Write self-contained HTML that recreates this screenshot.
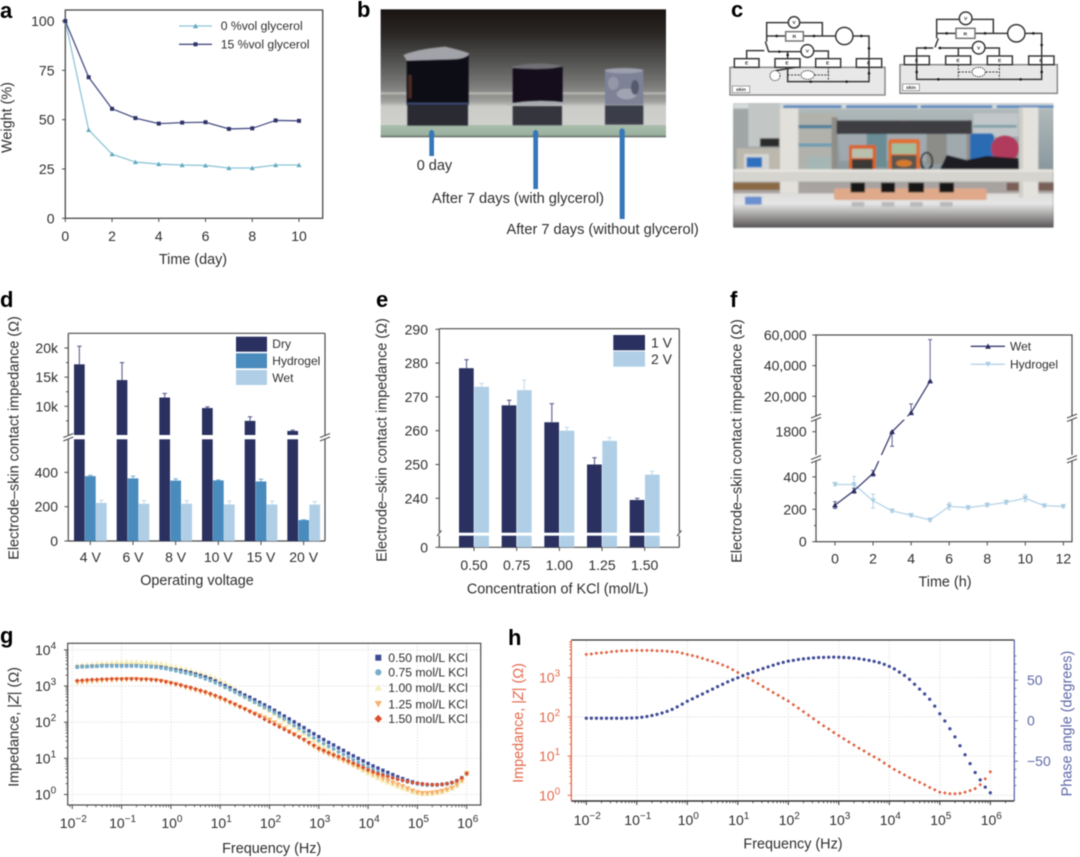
<!DOCTYPE html>
<html lang="en">
<head>
<meta charset="utf-8">
<title>Electrode-skin impedance figure</title>
<style>
html,body{margin:0;padding:0;background:#fff;width:1080px;height:857px;overflow:hidden}
svg{display:block;filter:blur(0.5px);font-family:"Liberation Sans",Arial,sans-serif}
text{fill:#2e2e2e}
</style>
</head>
<body>
<svg id="fig" xmlns="http://www.w3.org/2000/svg" width="1080" height="857" viewBox="0 0 1080 857">
<defs>
<linearGradient id="bBg" x1="0" y1="0" x2="0" y2="1">
<stop offset="0" stop-color="#191412"/><stop offset=".19" stop-color="#2b2725"/><stop offset=".42" stop-color="#555553"/><stop offset=".6" stop-color="#7c7c7a"/><stop offset=".64" stop-color="#8a8a88"/><stop offset=".655" stop-color="#b8b8b2"/><stop offset=".675" stop-color="#8f8f8c"/><stop offset=".72" stop-color="#a0a09e"/><stop offset=".76" stop-color="#cbcbc7"/><stop offset=".9" stop-color="#d0d0cc"/><stop offset=".91" stop-color="#a8bcab"/><stop offset=".98" stop-color="#9ab09f"/><stop offset="1" stop-color="#5b5f5b"/>
</linearGradient>
<linearGradient id="cFloor" x1="0" y1="0" x2="0" y2="1">
<stop offset="0" stop-color="#dcdcda"/><stop offset=".3" stop-color="#e6e6e6"/><stop offset=".55" stop-color="#b5b4b3"/><stop offset="1" stop-color="#5a5656"/>
</linearGradient>
<linearGradient id="cBack" x1="0" y1="0" x2="0" y2="1">
<stop offset="0" stop-color="#b4bcbc"/><stop offset=".5" stop-color="#8c9aa0"/><stop offset="1" stop-color="#5e6a6e"/>
</linearGradient>
<filter id="soft" x="-2%" y="-2%" width="104%" height="104%"><feGaussianBlur stdDeviation="2.6"/></filter>
<filter id="softer" x="-2%" y="-2%" width="104%" height="104%"><feGaussianBlur stdDeviation="1.4"/></filter>
</defs>

<g font-weight="700" font-size="22">
<text x="0" y="18" style="fill:#000">a</text>
<text x="357" y="17" style="fill:#000">b</text>
<text x="731" y="17" style="fill:#000">c</text>
<text x="0" y="307" style="fill:#000">d</text>
<text x="376" y="307" style="fill:#000">e</text>
<text x="730" y="307" style="fill:#000">f</text>
<text x="0" y="643" style="fill:#000">g</text>
<text x="508" y="645" style="fill:#000">h</text>
</g>

<g id="panel-b">
<g transform="translate(350,0) scale(0.33333)">
<rect x="92" y="28" width="856" height="384" fill="url(#bBg)"/>
<g filter="url(#softer)">
<g>
<rect x="172" y="315" width="182" height="62" fill="#2a2a30"/>
<rect x="170" y="165" width="186" height="150" fill="#100e16"/>
<rect x="175" y="225" width="10" height="70" fill="#4b2a24"/>
<path d="M160 165 Q200 148 285 140 Q330 150 358 160 Q350 178 300 178 L170 182 Z" fill="#a2a3a8"/>
<rect x="172" y="308" width="182" height="6" fill="#3c4a72"/>
</g>
<g>
<rect x="488" y="318" width="148" height="58" fill="#34343c"/>
<rect x="488" y="200" width="150" height="110" fill="#12111a"/>
<path d="M486 200 Q560 182 638 198 Q600 212 486 204 Z" fill="#6f7076"/>
<path d="M472 312 Q560 296 650 308 Q600 322 472 314 Z" fill="#a8acb0"/>
</g>
<g>
<rect x="765" y="316" width="115" height="58" fill="#3a3c48"/>
<rect x="765" y="208" width="115" height="106" fill="#7d8296"/>
<ellipse cx="822" cy="212" rx="57" ry="8" fill="#9da1ae"/>
<ellipse cx="830" cy="282" rx="30" ry="16" fill="#a0a4b2"/>
<ellipse cx="790" cy="250" rx="16" ry="20" fill="#9397a8"/>
<ellipse cx="855" cy="262" rx="12" ry="22" fill="#555a6c"/>
</g>
</g>
<rect x="238" y="392" width="14" height="76" fill="#3577b8"/>
<path d="M245 388 L255 405 L235 405 Z" fill="#3577b8"/>
<rect x="550" y="392" width="14" height="175" fill="#3577b8"/>
<path d="M557 388 L567 405 L547 405 Z" fill="#3577b8"/>
<rect x="809" y="388" width="15" height="269" fill="#3577b8"/>
<path d="M816 382 L826 400 L806 400 Z" fill="#3577b8"/>
</g>
<text x="416.7" y="170" font-size="14.5">0 day</text>
<text x="432" y="203" font-size="14.6">After 7 days (with glycerol)</text>
<text x="506.5" y="234" font-size="14.6">After 7 days (without glycerol)</text>
</g>

<g id="panel-c">
<g transform="translate(720,0) scale(0.33333)" fill="none" stroke="#3a3a3a" stroke-width="4.5" font-size="15" font-weight="700">
<g>
<rect x="30" y="202" width="465" height="83" fill="#e8e8e8" stroke="#8a8a8a"/>
<rect x="43" y="176" width="74" height="26" fill="#fff"/><rect x="165" y="176" width="75" height="26" fill="#fff"/><rect x="287" y="176" width="75" height="26" fill="#fff"/><rect x="409" y="176" width="76" height="26" fill="#fff"/>
<path d="M205 68 L140 68 L140 125 M140 108 L197 108 M250 108 L348 108 M240 68 L307 68 L307 108 M400 108 L447 108 L447 245 L203 245 L203 205 M136 125 L146 155 L245 155 M281 153 L325 153 L325 176 M80 176 L80 152 L133 152 M203 155 L203 176 M168 212 L225 202"/>
<path d="M203 225 L243 225 M283 225 L325 225 L325 205 L325 242" stroke-dasharray="6 4" stroke-width="3"/>
<circle cx="222" cy="67" r="17" fill="#fff"/><circle cx="262" cy="153" r="19" fill="#fff"/><circle cx="373" cy="108" r="26" fill="#fff"/><rect x="197" y="95" width="53" height="28" fill="#fff" stroke="#777"/>
<ellipse cx="165" cy="227" rx="15" ry="15" fill="#fff" stroke-dasharray="4 3" stroke-width="3"/><ellipse cx="263" cy="225" rx="20" ry="13" fill="#fff" stroke-dasharray="4 3" stroke-width="3"/>
<rect x="37" y="258" width="52" height="20" fill="#fff" stroke="#777" stroke-width="2"/>
<g stroke="none" fill="#222"><circle cx="170" cy="108" r="4"/><circle cx="282" cy="108" r="4"/><circle cx="424" cy="108" r="4"/><circle cx="447" cy="145" r="4"/><circle cx="178" cy="155" r="4"/><circle cx="203" cy="165" r="4"/><circle cx="447" cy="220" r="4"/><circle cx="380" cy="245" r="4"/><circle cx="272" cy="245" r="4"/></g>
<g stroke="none"><text x="222" y="72" text-anchor="middle" style="fill:#333">V</text><text x="262" y="158" text-anchor="middle" style="fill:#333">V</text><text x="223" y="114" text-anchor="middle" style="fill:#333">R</text><text x="80" y="194" text-anchor="middle" style="fill:#333">E</text><text x="201" y="194" text-anchor="middle" style="fill:#333">E</text><text x="323" y="194" text-anchor="middle" style="fill:#333">E</text><text x="446" y="194" text-anchor="middle" style="fill:#333">E</text><text x="63" y="273" text-anchor="middle" style="fill:#333">skin</text></g>
</g>
<g>
<rect x="540" y="194" width="472" height="86" fill="#e8e8e8" stroke="#8a8a8a"/>
<rect x="553" y="168" width="75" height="26" fill="#fff"/><rect x="677" y="168" width="75" height="26" fill="#fff"/><rect x="802" y="168" width="75" height="26" fill="#fff"/><rect x="926" y="168" width="76" height="26" fill="#fff"/>
<path d="M717 58 L650 58 L650 115 M650 100 L708 100 M765 100 L862 100 M757 58 L820 58 L820 100 M916 100 L965 100 L965 238 L590 238 L590 168 L590 144 L640 144 M645 142 L655 115 M655 144 L757 144 M794 144 L838 144 L838 168 M715 144 L715 168"/>
<path d="M715 194 L715 236 M715 216 L757 216 M797 216 L838 216 M838 194 L838 236" stroke-dasharray="6 4" stroke-width="3"/>
<circle cx="737" cy="55" r="19" fill="#fff"/><circle cx="776" cy="143" r="19" fill="#fff"/><circle cx="889" cy="100" r="26" fill="#fff"/><rect x="708" y="85" width="57" height="30" fill="#fff" stroke="#777"/>
<ellipse cx="776" cy="216" rx="20" ry="14" fill="#fff" stroke-dasharray="4 3" stroke-width="3"/>
<rect x="548" y="252" width="50" height="20" fill="#fff" stroke="#777" stroke-width="2"/>
<g stroke="none" fill="#222"><circle cx="680" cy="100" r="4"/><circle cx="795" cy="100" r="4"/><circle cx="940" cy="100" r="4"/><circle cx="965" cy="135" r="4"/><circle cx="616" cy="144" r="4"/><circle cx="660" cy="144" r="4"/><circle cx="655" cy="238" r="4"/><circle cx="902" cy="238" r="4"/><circle cx="590" cy="216" r="4"/><circle cx="965" cy="216" r="4"/></g>
<g stroke="none"><text x="737" y="60" text-anchor="middle" style="fill:#333">V</text><text x="776" y="148" text-anchor="middle" style="fill:#333">V</text><text x="736" y="106" text-anchor="middle" style="fill:#333">R</text><text x="590" y="186" text-anchor="middle" style="fill:#333">E</text><text x="714" y="186" text-anchor="middle" style="fill:#333">E</text><text x="839" y="186" text-anchor="middle" style="fill:#333">E</text><text x="963" y="186" text-anchor="middle" style="fill:#333">E</text><text x="573" y="267" text-anchor="middle" style="fill:#333">skin</text></g>
</g>
</g>
<g transform="translate(720,0) scale(0.33333)">
<rect x="40" y="310" width="960" height="372" fill="url(#cBack)"/>
<g filter="url(#soft)">
<rect x="40" y="310" width="960" height="16" fill="#d5dadc"/>
<rect x="190" y="316" width="175" height="8" fill="#4c82bd"/><rect x="378" y="316" width="215" height="8" fill="#4c82bd"/><rect x="602" y="316" width="215" height="8" fill="#4c82bd"/><rect x="830" y="316" width="170" height="8" fill="#4c82bd"/>
<rect x="40" y="326" width="140" height="190" fill="#a0a5a5"/><rect x="85" y="310" width="95" height="130" fill="#c2c6c4"/><rect x="120" y="415" width="58" height="25" fill="#2a2a2a"/>
<rect x="235" y="340" width="110" height="170" fill="#b2b2ac"/><rect x="235" y="375" width="100" height="10" fill="#4f7f9a"/><rect x="235" y="430" width="100" height="10" fill="#6f9cb3"/>
<rect x="760" y="340" width="135" height="70" fill="#c1c7c9"/><rect x="760" y="375" width="130" height="8" fill="#7d9fa5"/>
<rect x="335" y="352" width="18" height="160" fill="#8e8d88"/><rect x="540" y="360" width="20" height="150" fill="#a4a29c"/><rect x="740" y="360" width="16" height="120" fill="#8f8d88"/>
<rect x="350" y="362" width="405" height="40" fill="#3c3c42"/>
<rect x="360" y="402" width="380" height="80" fill="#9fa9ae"/><rect x="440" y="402" width="60" height="100" fill="#6a8d95"/><rect x="620" y="402" width="60" height="90" fill="#8c8d88"/>
<rect x="50" y="445" width="130" height="65" fill="#bcb8ae"/><rect x="72" y="462" width="75" height="45" fill="#d4d6d4"/><rect x="80" y="472" width="46" height="30" fill="#2d6fc0"/>
<rect x="260" y="470" width="70" height="38" fill="#a4b7b4"/>
<rect x="387" y="435" width="81" height="75" rx="6" fill="#d8642a"/><rect x="396" y="446" width="62" height="28" fill="#b9c0ae"/><rect x="396" y="478" width="62" height="32" fill="#3a3836"/>
<rect x="505" y="417" width="95" height="93" rx="8" fill="#e06f30"/><rect x="515" y="430" width="74" height="32" fill="#a6bd9c"/><rect x="515" y="466" width="74" height="44" fill="#58544e"/><ellipse cx="552" cy="490" rx="24" ry="11" fill="#d4792f"/>
<ellipse cx="620" cy="484" rx="17" ry="26" fill="none" stroke="#1e1e1e" stroke-width="5"/>
<rect x="750" y="400" width="72" height="105" rx="10" fill="#2c6cb3"/>
<ellipse cx="855" cy="446" rx="42" ry="40" fill="#b13a5c"/>
<path d="M660 510 L680 465 L740 480 L800 468 L895 475 L900 510 Z" fill="#1d1d20"/>
<rect x="40" y="545" width="960" height="40" fill="#a8a3a0"/>
<rect x="40" y="548" width="140" height="22" fill="#8a6a44"/><rect x="860" y="548" width="140" height="24" fill="#7a5e58"/>
<rect x="40" y="580" width="960" height="102" fill="url(#cFloor)"/>
<rect x="75" y="590" width="50" height="24" fill="#6b90cf"/>
<rect x="180" y="325" width="55" height="255" fill="#e2e0da"/><rect x="897" y="322" width="58" height="270" fill="#e4e2dc"/><rect x="897" y="322" width="12" height="270" fill="#cfcdc8"/>
<rect x="40" y="508" width="960" height="37" fill="#d6d4ce"/><rect x="40" y="508" width="960" height="8" fill="#e6e4de"/>
<rect x="342" y="565" width="458" height="35" rx="6" fill="#dfa98a"/>
<rect x="392" y="548" width="43" height="29" fill="#151515"/><rect x="483" y="548" width="42" height="29" fill="#151515"/><rect x="565" y="548" width="47" height="29" fill="#151515"/><rect x="658" y="548" width="44" height="29" fill="#151515"/>
<rect x="395" y="606" width="38" height="14" fill="#b9b9b9"/><rect x="485" y="606" width="38" height="14" fill="#b9b9b9"/><rect x="570" y="606" width="38" height="14" fill="#b9b9b9"/><rect x="660" y="606" width="38" height="14" fill="#b9b9b9"/>
</g>
</g>
</g>

<g id="charts"></g>

<script>
// ---------- panel a ----------
const aDays = [0,1,2,3,4,5,6,7,8,9,10];
const aGlycerol0 = [100,44.8,32.5,28.5,27.5,27,26.8,25.5,25.5,27,27];
const aGlycerol15 = [100,71.5,55.5,50.8,48,48.5,48.7,45.3,45.6,49.6,49.4];
const aXTicks = [0,2,4,6,8,10];
const aYTicks = [0,25,50,75,100];
// ---------- panel d ----------
const dCategories = ["4 V","6 V","8 V","10 V","15 V","20 V"];
const dDry = [17200,14500,11500,9700,7500,5770];
const dDryErr = [20300,17500,12200,9900,8200,5900];
const dHydrogel = [378,365,352,353,347,122];
const dHydrogelErr = [383,378,362,356,360,124];
const dWet = [222,217,217,213,213,212];
const dWetErr = [238,235,235,233,232,230];
const dUpperTicks = [10000,15000,20000];
const dUpperLabels = ["10k","15k","20k"];
const dUpperMinor = [7500,12500,17500];
const dLowerTicks = [0,200,400];
// ---------- panel e ----------
const eCategories = ["0.50","0.75","1.00","1.25","1.50"];
const e1V = [278.5,267.5,262.5,250,239.5];
const e1VErr = [281,269,268,252,240];
const e2V = [273,272,260,257,247];
const e2VErr = [274,275,261,258,248];
const eYTicks = [240,250,260,270,280,290];
// ---------- panel f ----------
const fWetTimes = [0,1,2,3,4,5];
const fWet = [226,315,422,1800,9300,30000];
const fWetErrHigh = [247,330,440,1800,15000,57000];
const fWetErrLow = [205,300,405,1600,9300,30000];
const fHydroTimes = [0,1,2,3,4,5,6,7,8,9,10,11,12];
const fHydrogel = [354,352,253,190,163,134,218,210,226,243,268,222,218];
const fHydroErrHigh = [362,403,294,200,172,146,240,222,238,256,290,232,228];
const fHydroErrLow = [346,320,207,182,154,124,198,200,216,232,248,214,210];
const fXTicks = [0,2,4,6,8,10,12];
const fLowTicks = [0,200,400];
const fMidTicks = [1800];
const fHighTicks = [20000,40000,60000];
const fHighLabels = ["20,000","40,000","60,000"];
const fMinorTicks = [100,300];
// ---------- panel h + g frequency sweep ----------
const hLogFreq = [-2,-1.9,-1.8,-1.7,-1.6,-1.5,-1.4,-1.3,-1.2,-1.1,-1,-0.9,-0.8,-0.7,-0.6,-0.5,-0.4,-0.3,-0.2,-0.1,0,0.1,0.2,0.3,0.4,0.5,0.6,0.7,0.8,0.9,1,1.1,1.2,1.3,1.4,1.5,1.6,1.7,1.8,1.9,2,2.1,2.2,2.3,2.4,2.5,2.6,2.7,2.8,2.9,3,3.1,3.2,3.3,3.4,3.5,3.6,3.7,3.8,3.9,4,4.1,4.2,4.3,4.4,4.5,4.6,4.7,4.8,4.9,5,5.1,5.2,5.3,5.4,5.5,5.6,5.7,5.8,5.9,6];
const hLogZ = [3.59,3.60,3.62,3.63,3.64,3.66,3.67,3.68,3.68,3.69,3.69,3.69,3.69,3.69,3.68,3.68,3.67,3.66,3.65,3.62,3.59,3.56,3.53,3.49,3.45,3.41,3.37,3.32,3.27,3.20,3.13,3.06,2.99,2.92,2.85,2.77,2.70,2.62,2.55,2.47,2.40,2.31,2.22,2.13,2.04,1.95,1.86,1.77,1.69,1.60,1.52,1.44,1.36,1.28,1.20,1.13,1.05,.98,.91,.82,.74,.66,.59,.52,.45,.39,.33,.27,.20,.14,.08,.06,.04,.04,.05,.08,.12,.17,.27,.42,.60];
const hPhase = [3,3,3,3,3,3,3,3,3.2,3.4,3.7,4.3,5.2,6.4,7.8,9.5,11.5,14,17,20.5,24,27,30,33,36,39,42,45,48,50.5,53,55.5,58,60,62.5,64.5,66.5,68.5,70.5,72,73.5,74.5,75.5,76.3,77,77.5,78,78.2,78.4,78.5,78.4,78.1,77.7,77.2,76.5,75.6,74.5,73.2,71.7,69.5,67,64,60,56,51,45,39,33,26.5,18,8.6,-0.4,-10,-20,-31,-42,-53,-64,-73,-82,-89];
const hExponents = [-2,-1,0,1,2,3,4,5,6];
const hLeftExponents = [0,1,2,3];
const hRightTicks = [-50,0,50];
const hRightMinor = [-80,-70,-60,-40,-30,-20,-10,10,20,30,40,60,70,80];
// ---------- panel g ----------
const gLogFreq = hLogFreq.slice(1);
const gLogZ050 = [3.53,3.54,3.54,3.55,3.55,3.56,3.56,3.56,3.56,3.56,3.56,3.56,3.56,3.55,3.55,3.54,3.53,3.52,3.50,3.47,3.45,3.43,3.40,3.37,3.33,3.29,3.25,3.20,3.14,3.07,3.01,2.95,2.88,2.82,2.75,2.69,2.62,2.55,2.48,2.41,2.33,2.25,2.17,2.09,2.01,1.93,1.85,1.76,1.68,1.60,1.52,1.44,1.37,1.29,1.22,1.14,1.07,1.00,.93,.86,.79,.73,.67,.61,.55,.49,.44,.39,.35,.31,.29,.27,.27,.27,.28,.30,.33,.38,.46,.58];
const gLogZ075 = [3.52,3.53,3.54,3.54,3.55,3.55,3.55,3.55,3.55,3.55,3.55,3.55,3.55,3.54,3.54,3.53,3.52,3.50,3.48,3.45,3.42,3.39,3.36,3.33,3.29,3.25,3.20,3.15,3.09,3.03,2.96,2.90,2.83,2.76,2.69,2.62,2.55,2.48,2.41,2.34,2.26,2.17,2.09,2.00,1.91,1.83,1.74,1.65,1.57,1.49,1.41,1.33,1.26,1.18,1.11,1.03,.96,.89,.82,.75,.69,.63,.57,.52,.47,.43,.39,.35,.32,.29,.27,.26,.26,.26,.27,.29,.32,.37,.45,.58];
const gLogZ100 = [3.57,3.58,3.59,3.60,3.62,3.63,3.64,3.65,3.66,3.66,3.67,3.67,3.67,3.66,3.66,3.65,3.63,3.62,3.59,3.56,3.53,3.50,3.47,3.43,3.39,3.35,3.31,3.27,3.22,3.17,3.09,3.01,2.92,2.84,2.75,2.67,2.58,2.50,2.41,2.33,2.24,2.15,2.06,1.97,1.88,1.79,1.70,1.60,1.50,1.40,1.32,1.24,1.16,1.08,1.00,.92,.84,.76,.68,.60,.53,.46,.40,.34,.29,.24,.19,.14,.09,.05,.03,.03,.04,.06,.09,.13,.18,.26,.38,.58];
const gLogZ125 = [3.10,3.11,3.12,3.13,3.14,3.15,3.16,3.16,3.17,3.17,3.18,3.18,3.18,3.17,3.17,3.16,3.15,3.13,3.10,3.07,3.04,3.00,2.96,2.92,2.88,2.84,2.80,2.75,2.70,2.64,2.59,2.53,2.47,2.41,2.35,2.29,2.23,2.18,2.12,2.06,1.98,1.90,1.82,1.74,1.66,1.58,1.50,1.41,1.32,1.23,1.17,1.11,1.05,.99,.93,.87,.81,.75,.69,.63,.56,.50,.44,.38,.32,.27,.22,.16,.10,.05,.03,.03,.04,.06,.09,.13,.18,.26,.38,.58];
const gLogZ150 = [3.15,3.16,3.17,3.18,3.18,3.19,3.19,3.20,3.20,3.20,3.20,3.20,3.20,3.19,3.19,3.18,3.17,3.15,3.12,3.09,3.06,3.03,2.99,2.96,2.92,2.88,2.84,2.79,2.74,2.69,2.63,2.56,2.50,2.43,2.37,2.30,2.23,2.16,2.08,2.01,1.94,1.87,1.80,1.73,1.66,1.59,1.52,1.44,1.36,1.28,1.22,1.16,1.10,1.05,.99,.93,.87,.81,.75,.68,.63,.58,.54,.50,.46,.42,.39,.36,.33,.31,.29,.28,.27,.27,.28,.30,.33,.38,.46,.58];
const gExponents = [-2,-1,0,1,2,3,4,5,6];
const gYExponents = [0,1,2,3,4];
const gLegendLabels = ["0.50 mol/L KCl","0.75 mol/L KCl","1.00 mol/L KCl","1.25 mol/L KCl","1.50 mol/L KCl"];

const NS = 'http://www.w3.org/2000/svg';
const AXIS = '#4a4a4a';
const root = document.getElementById('charts');

function node(tag, attrs, parent, name, interactive) {
  const el = document.createElementNS(NS, tag);
  for (const k in attrs) el.setAttribute(k, attrs[k]);
  
  
  parent.appendChild(el);
  return el;
}
function group(name) { return node('g', {}, root, name); }
function seg(p, x1, y1, x2, y2, color, w, name, dash) {
  const a = {x1, y1, x2, y2, stroke: color, 'stroke-width': w};
  if (dash) a['stroke-dasharray'] = dash;
  return node('line', a, p, name);
}
function label(p, x, y, str, size, anchor, name, color) {
  const el = node('text', {x, y, 'font-size': size, 'text-anchor': anchor || 'start'}, p, name);
  el.textContent = str;
  if (color) el.style.fill = color;
  return el;
}
function vLabel(p, x, y, str, size, name, color) {
  const el = label(p, x, y, str, size, 'middle', name, color);
  el.setAttribute('transform', 'rotate(-90 ' + x + ' ' + y + ')');
  return el;
}
function powLabel(p, x, y, exp, anchor, name, color) {
  const el = node('text', {x, y, 'font-size': 14, 'text-anchor': anchor}, p, name);
  if (color) el.style.fill = color;
  el.appendChild(document.createTextNode('10'));
  const sup = document.createElementNS(NS, 'tspan');
  sup.setAttribute('dy', '-6');
  sup.setAttribute('font-size', '10');
  sup.textContent = String(exp).replace('-', '\u2212');
  el.appendChild(sup);
  return el;
}
function marker(p, kind, x, y, s, color, name) {
  if (kind === 'square') return node('rect', {x: x - s, y: y - s, width: 2 * s, height: 2 * s, fill: color}, p, name);
  if (kind === 'circle') return node('circle', {cx: x, cy: y, r: s * 1.05, fill: color}, p, name);
  let pts;
  if (kind === 'up') pts = [x, y - s * 1.15, x + s * 1.2, y + s, x - s * 1.2, y + s];
  else if (kind === 'down') pts = [x, y + s * 1.15, x + s * 1.2, y - s, x - s * 1.2, y - s];
  else pts = [x, y - s * 1.3, x + s * 1.3, y, x, y + s * 1.3, x - s * 1.3, y];
  return node('polygon', {points: pts.join(' '), fill: color}, p, name);
}
function polyline(p, xs, ys, color, w, name) {
  const pts = xs.map((x, i) => x + ',' + ys[i]).join(' ');
  return node('polyline', {points: pts, fill: 'none', stroke: color, 'stroke-width': w, 'stroke-linejoin': 'round'}, p, name);
}
function errorBar(p, x, y1, y2, color, capW, name) {
  seg(p, x, y1, x, y2, color, 1.1, name);
  seg(p, x - capW, y2, x + capW, y2, color, 1.1, name + '-cap');
}
function breakMark(p, x, y) {
  seg(p, x - 5, y + 0.5, x + 5, y - 3.5, AXIS, 1, 'axis-break-slash');
  seg(p, x - 5, y + 4, x + 5, y, AXIS, 1, 'axis-break-slash');
}

// ---------- panel a ----------
(function () {
  const p = group('weight-vs-time-chart');
  const aX = d => 65.3 + d * 23.37;
  const aY = v => 218.3 - v * 1.973;
  node('rect', {x: 65.3, y: 10, width: 257.4, height: 208.3, fill: 'none', stroke: AXIS, 'stroke-width': 1.3}, p, 'plot-frame');
  aYTicks.forEach(v => {
    seg(p, 62, aY(v), 65.3, aY(v), AXIS, 1, 'y-tick');
    label(p, 54.5, aY(v) + 5, v, 14, 'end', 'y-tick-label');
  });
  aXTicks.forEach(v => {
    seg(p, aX(v), 218.3, aX(v), 222, AXIS, 1, 'x-tick');
    label(p, aX(v), 241, v, 14, 'middle', 'x-tick-label');
  });
  polyline(p, aDays.map(aX), aGlycerol0.map(aY), '#8fc6d6', 1.3, 'series-0-vol-glycerol');
  polyline(p, aDays.map(aX), aGlycerol15.map(aY), '#4a4f85', 1.3, 'series-15-vol-glycerol');
  aDays.forEach((d, i) => {
    marker(p, 'up', aX(d), aY(aGlycerol0[i]), 2.1, '#62a9bf', 'point-0-vol');
    marker(p, 'square', aX(d), aY(aGlycerol15[i]), 2, '#2f3468', 'point-15-vol');
  });
  seg(p, 179, 26, 212, 26, '#8fc6d6', 1.3, 'legend-line-0-vol');
  marker(p, 'up', 195.5, 26, 2.2, '#62a9bf', 'legend-marker-0-vol');
  label(p, 220.7, 30.2, '0 %vol glycerol', 12.2, 'start', 'legend-label-0-vol');
  seg(p, 179, 44.3, 212, 44.3, '#4a4f85', 1.3, 'legend-line-15-vol');
  marker(p, 'square', 195.5, 44.3, 2, '#2f3468', 'legend-marker-15-vol');
  label(p, 220.7, 48.5, '15 %vol glycerol', 12.2, 'start', 'legend-label-15-vol');
  label(p, 193, 264, 'Time (day)', 14.4, 'middle', 'x-axis-title');
  vLabel(p, 11.5, 117.5, 'Weight (%)', 14.4, 'y-axis-title');
})();

// ---------- panel d ----------
(function () {
  const p = group('impedance-vs-voltage-chart');
  const DRY = '#2a3160', HYD = '#4a8bbd', WET = '#b0cfe6';
  const upY = v => 406.3 - (v - 10000) * 29.15 / 5000;
  const loY = v => 541 - v * 0.1716;
  const gx = i => 90.3 + i * 42.67;
  seg(p, 68.3, 333.3, 325, 333.3, AXIS, 1.2, 'top-frame');
  seg(p, 68.3, 541, 325, 541, AXIS, 1.2, 'x-axis');
  seg(p, 68.3, 333.3, 68.3, 435, AXIS, 1.2, 'y-axis-upper');
  seg(p, 68.3, 439.3, 68.3, 541, AXIS, 1.2, 'y-axis-lower');
  seg(p, 325, 333.3, 325, 435, AXIS, 1.2, 'right-frame-upper');
  seg(p, 325, 439.3, 325, 541, AXIS, 1.2, 'right-frame-lower');
  dUpperTicks.forEach((v, i) => {
    seg(p, 64.5, upY(v), 68.3, upY(v), AXIS, 1, 'y-tick');
    label(p, 58, upY(v) + 5, dUpperLabels[i], 14, 'end', 'y-tick-label');
  });
  dUpperMinor.forEach(v => seg(p, 66, upY(v), 68.3, upY(v), AXIS, 1, 'y-minor-tick'));
  dLowerTicks.forEach(v => {
    seg(p, 64.5, loY(v), 68.3, loY(v), AXIS, 1, 'y-tick');
    label(p, 58, loY(v) + 5, v, 14, 'end', 'y-tick-label');
  });
  const w = 10.7;
  dCategories.forEach((c, i) => {
    const x = gx(i);
    const dx = x - 16.3;
    errorBar(p, dx + w / 2, upY(dDry[i]), upY(dDryErr[i]), '#5b5f8f', 2.2, 'dry-error-bar');
    node('rect', {x: dx, y: upY(dDry[i]), width: w, height: 435 - upY(dDry[i]), fill: DRY}, p, 'bar-dry-upper');
    node('rect', {x: dx, y: 439.3, width: w, height: 541 - 439.3, fill: DRY}, p, 'bar-dry-lower');
    const hx = x - 5.3;
    errorBar(p, hx + w / 2, loY(dHydrogel[i]), loY(dHydrogelErr[i]), '#7fb0d2', 2.2, 'hydrogel-error-bar');
    node('rect', {x: hx, y: loY(dHydrogel[i]), width: w, height: 541 - loY(dHydrogel[i]), fill: HYD}, p, 'bar-hydrogel');
    const wx = x + 5.7;
    errorBar(p, wx + w / 2, loY(dWet[i]), loY(dWetErr[i]), '#c5dcec', 2.2, 'wet-error-bar');
    node('rect', {x: wx, y: loY(dWet[i]), width: w, height: 541 - loY(dWet[i]), fill: WET}, p, 'bar-wet');
    seg(p, x, 541, x, 545, AXIS, 1, 'x-tick');
    label(p, x, 562, c, 14, 'middle', 'x-tick-label');
  });
  breakMark(p, 68.3, 437);
  breakMark(p, 325, 437);
  node('rect', {x: 236, y: 336.7, width: 31, height: 15, fill: DRY}, p, 'legend-swatch-dry');
  node('rect', {x: 236, y: 353.3, width: 31, height: 15, fill: HYD}, p, 'legend-swatch-hydrogel');
  node('rect', {x: 236, y: 370, width: 31, height: 15, fill: WET}, p, 'legend-swatch-wet');
  label(p, 272.3, 348, 'Dry', 12, 'start', 'legend-label-dry');
  label(p, 272.3, 365, 'Hydrogel', 12, 'start', 'legend-label-hydrogel');
  label(p, 272.3, 382, 'Wet', 12, 'start', 'legend-label-wet');
  label(p, 197, 585, 'Operating voltage', 14.4, 'middle', 'x-axis-title');
  vLabel(p, 18.5, 438, 'Electrode\u2013skin contact impedance (\u03a9)', 14.4, 'y-axis-title');
})();

// ---------- panel e ----------
(function () {
  const p = group('impedance-vs-kcl-chart');
  const NAVY = '#2a3160', PALE = '#b0cfe6';
  const eY = v => 498.3 - (v - 240) * 3.38;
  const gx = i => 474 + i * 42.67;
  seg(p, 439.3, 328.7, 679.3, 328.7, AXIS, 1.2, 'top-frame');
  seg(p, 439.3, 547.3, 679.3, 547.3, AXIS, 1.2, 'x-axis');
  seg(p, 439.3, 328.7, 439.3, 532, AXIS, 1.2, 'y-axis-upper');
  seg(p, 439.3, 535.5, 439.3, 547.3, AXIS, 1.2, 'y-axis-lower');
  seg(p, 679.3, 328.7, 679.3, 532, AXIS, 1.2, 'right-frame-upper');
  seg(p, 679.3, 535.5, 679.3, 547.3, AXIS, 1.2, 'right-frame-lower');
  eYTicks.forEach(v => {
    seg(p, 435.5, eY(v), 439.3, eY(v), AXIS, 1, 'y-tick');
    label(p, 428, eY(v) + 5, v, 14, 'end', 'y-tick-label');
  });
  seg(p, 435.5, 547.3, 439.3, 547.3, AXIS, 1, 'y-tick');
  label(p, 428, 552.3, 0, 14, 'end', 'y-tick-label');
  const w = 14.7;
  eCategories.forEach((c, i) => {
    const x = gx(i);
    errorBar(p, x - 7.5, eY(e1V[i]), eY(e1VErr[i]), '#5b5f8f', 2.2, 'one-volt-error-bar');
    node('rect', {x: x - 15, y: eY(e1V[i]), width: w, height: 532.7 - eY(e1V[i]), fill: NAVY}, p, 'bar-1v-upper');
    node('rect', {x: x - 15, y: 535.7, width: w, height: 11.6, fill: NAVY}, p, 'bar-1v-lower');
    errorBar(p, x + 7.5, eY(e2V[i]), eY(e2VErr[i]), '#c5dcec', 2.2, 'two-volt-error-bar');
    node('rect', {x: x + 0.3, y: eY(e2V[i]), width: w, height: 532.7 - eY(e2V[i]), fill: PALE}, p, 'bar-2v-upper');
    node('rect', {x: x + 0.3, y: 535.7, width: w, height: 11.6, fill: PALE}, p, 'bar-2v-lower');
    seg(p, x, 547.3, x, 551, AXIS, 1, 'x-tick');
    label(p, x, 570, c, 14, 'middle', 'x-tick-label');
  });
  seg(p, 437, 536, 441.5, 530.5, AXIS, 1, 'axis-break-slash');
  seg(p, 677, 536, 681.5, 530.5, AXIS, 1, 'axis-break-slash');
  node('rect', {x: 613.3, y: 335, width: 31.7, height: 15.3, fill: NAVY}, p, 'legend-swatch-1v');
  node('rect', {x: 613.3, y: 351.4, width: 31.7, height: 15.3, fill: PALE}, p, 'legend-swatch-2v');
  label(p, 651, 347.5, '1 V', 14, 'start', 'legend-label-1v');
  label(p, 651, 364, '2 V', 14, 'start', 'legend-label-2v');
  label(p, 557.7, 593.3, 'Concentration of KCl (mol/L)', 14.4, 'middle', 'x-axis-title');
  vLabel(p, 386.7, 440, 'Electrode\u2013skin contact impedance (\u03a9)', 14.4, 'y-axis-title');
})();

// ---------- panel f ----------
(function () {
  const p = group('impedance-vs-time-chart');
  const WET = '#3b3d73', HYD = '#b7d4e8';
  const fX = t => 835 + t * 19.03;
  const fY = v => {
    if (v <= 505) return 541.7 - v * 0.162;
    if (v <= 2000) return 431.7 + (1800 - v) * 0.073;
    return 396.3 - (v - 20000) * 0.0015325;
  };
  node('rect', {x: 816, y: 335, width: 256, height: 206.7, fill: 'none', stroke: AXIS, 'stroke-width': 1.2}, p, 'plot-frame');
  fLowTicks.concat(fMidTicks).concat(fHighTicks).forEach(v => seg(p, 812.3, fY(v), 816, fY(v), AXIS, 1, 'y-tick'));
  fMinorTicks.forEach(v => seg(p, 814, fY(v), 816, fY(v), AXIS, 1, 'y-minor-tick'));
  fLowTicks.forEach(v => label(p, 806.7, fY(v) + 5, v, 14, 'end', 'y-tick-label'));
  fMidTicks.forEach(v => label(p, 806.7, fY(v) + 5, v, 14, 'end', 'y-tick-label'));
  fHighTicks.forEach((v, i) => label(p, 806.7, fY(v) + 5, fHighLabels[i], 14, 'end', 'y-tick-label'));
  fXTicks.forEach(v => {
    seg(p, fX(v), 541.7, fX(v), 545.5, AXIS, 1, 'x-tick');
    label(p, fX(v), 563.3, v, 14, 'middle', 'x-tick-label');
  });
  fHydroTimes.forEach((t, i) => {
    seg(p, fX(t), fY(fHydroErrHigh[i]), fX(t), fY(fHydroErrLow[i]), HYD, 1, 'hydrogel-error-bar');
    seg(p, fX(t) - 2, fY(fHydroErrHigh[i]), fX(t) + 2, fY(fHydroErrHigh[i]), HYD, 1, 'hydrogel-error-cap');
    seg(p, fX(t) - 2, fY(fHydroErrLow[i]), fX(t) + 2, fY(fHydroErrLow[i]), HYD, 1, 'hydrogel-error-cap');
  });
  polyline(p, fHydroTimes.map(fX), fHydrogel.map(fY), HYD, 1.3, 'series-hydrogel');
  fHydroTimes.forEach((t, i) => marker(p, 'down', fX(t), fY(fHydrogel[i]), 2.3, '#a9cce3', 'point-hydrogel'));
  polyline(p, fWetTimes.map(fX), fWet.map(fY), WET, 1.3, 'series-wet');
  fWetTimes.forEach((t, i) => {
    seg(p, fX(t), fY(fWetErrHigh[i]), fX(t), fY(fWetErrLow[i]), '#5b5f8f', 1, 'wet-error-bar');
    seg(p, fX(t) - 2, fY(fWetErrHigh[i]), fX(t) + 2, fY(fWetErrHigh[i]), '#5b5f8f', 1, 'wet-error-cap');
    seg(p, fX(t) - 2, fY(fWetErrLow[i]), fX(t) + 2, fY(fWetErrLow[i]), '#5b5f8f', 1, 'wet-error-cap');
    marker(p, 'up', fX(t), fY(fWet[i]), 2.4, '#2a2c62', 'point-wet');
  });
  node('rect', {x: 813, y: 416.3, width: 262, height: 3.4, fill: '#fff'}, p, 'axis-break-gap-upper');
  node('rect', {x: 813, y: 455, width: 262, height: 6, fill: '#fff'}, p, 'axis-break-gap-lower');
  breakMark(p, 816, 417.5);
  breakMark(p, 1072, 417.5);
  breakMark(p, 816, 459);
  breakMark(p, 1072, 459);
  seg(p, 970.7, 346.3, 1005, 346.3, WET, 1.3, 'legend-line-wet');
  marker(p, 'up', 988, 346.3, 2.4, '#2a2c62', 'legend-marker-wet');
  label(p, 1010, 350.5, 'Wet', 12, 'start', 'legend-label-wet');
  seg(p, 970.7, 364.3, 1005, 364.3, HYD, 1.3, 'legend-line-hydrogel');
  marker(p, 'down', 988, 364.3, 2.4, '#a9cce3', 'legend-marker-hydrogel');
  label(p, 1010, 368.5, 'Hydrogel', 12, 'start', 'legend-label-hydrogel');
  label(p, 945, 586.7, 'Time (h)', 14.4, 'middle', 'x-axis-title');
  vLabel(p, 741.7, 441, 'Electrode\u2013skin contact impedance (\u03a9)', 14.4, 'y-axis-title');
})();

// ---------- panel g ----------
(function () {
  const p = group('impedance-bode-kcl-chart');
  const gX = l => 72.3 + (l + 2) * 49.3;
  const gY = l => 794.5 - l * 36.15;
  const minors = [2, 3, 4, 5, 6, 7, 8, 9];
  gExponents.forEach(e => seg(p, gX(e), 644, gX(e), 805, '#dcdcdc', 0.8, 'x-grid-line', '1.5 1.5'));
  gYExponents.forEach(e => seg(p, 68, gY(e), 480, gY(e), '#dcdcdc', 0.8, 'y-grid-line', '1.5 1.5'));
  node('rect', {x: 67.7, y: 643.3, width: 413, height: 161.7, fill: 'none', stroke: AXIS, 'stroke-width': 1.2}, p, 'plot-frame');
  gExponents.forEach(e => {
    seg(p, gX(e), 805, gX(e), 809, AXIS, 1, 'x-tick');
    powLabel(p, gX(e) + 1, 828, e, 'middle', 'x-tick-label');
    minors.forEach(m => {
      const l = e + Math.log10(m);
      if (gX(l) <= 480.5) seg(p, gX(l), 805, gX(l), 807.3, AXIS, 0.8, 'x-minor-tick');
    });
  });
  seg(p, 70.1, 805, 70.1, 807.3, AXIS, 0.8, 'x-minor-tick');
  gYExponents.forEach(e => {
    seg(p, 64, gY(e), 67.7, gY(e), AXIS, 1, 'y-tick');
    powLabel(p, 35, gY(e) + 5, e, 'start', 'y-tick-label');
    minors.forEach(m => {
      const l = e + Math.log10(m);
      if (gY(l) >= 644) seg(p, 65.5, gY(l), 67.7, gY(l), AXIS, 0.8, 'y-minor-tick');
    });
  });
  gLogFreq.forEach((l, i) => marker(p, 'up', gX(l), gY(gLogZ100[i]), 2.6, '#f5edb8', 'point-1-00-mol'));
  gLogFreq.forEach((l, i) => marker(p, 'square', gX(l), gY(gLogZ050[i]), 1.7, '#3d4b96', 'point-0-50-mol'));
  gLogFreq.forEach((l, i) => marker(p, 'circle', gX(l), gY(gLogZ075[i]), 1.8, '#78aecb', 'point-0-75-mol'));
  gLogFreq.forEach((l, i) => marker(p, 'down', gX(l), gY(gLogZ125[i]), 2.4, '#f6b26b', 'point-1-25-mol'));
  gLogFreq.forEach((l, i) => marker(p, 'diamond', gX(l), gY(gLogZ150[i]), 1.7, '#d9502e', 'point-1-50-mol'));
  const lyPos = [657.7, 672.3, 687.7, 704, 718.7];
  const kinds = ['square', 'circle', 'up', 'down', 'diamond'];
  const cols = ['#3d4b96', '#78aecb', '#f5edb8', '#f6b26b', '#d9502e'];
  gLegendLabels.forEach((t, i) => {
    marker(p, kinds[i], 378.3, lyPos[i], 3, cols[i], 'legend-marker');
    label(p, 388.3, lyPos[i] + 4.3, t, 12.2, 'start', 'legend-label');
  });
  label(p, 271.7, 853, 'Frequency (Hz)', 14.4, 'middle', 'x-axis-title');
  const title = node('text', {x: 18.5, y: 727, 'font-size': 14.4, 'text-anchor': 'middle', transform: 'rotate(-90 18.5 727)'}, p, 'y-axis-title');
  title.appendChild(document.createTextNode('Impedance, |'));
  const zi = document.createElementNS(NS, 'tspan');
  zi.setAttribute('font-style', 'italic');
  zi.textContent = 'Z';
  title.appendChild(zi);
  title.appendChild(document.createTextNode('| (\u03a9)'));
})();

// ---------- panel h ----------
(function () {
  const p = group('impedance-phase-bode-chart');
  const RED = '#e4694c', BLUE = '#5f68a8';
  const LEFT = 571.3, RIGHT = 1014.3, TOP = 640, BOTTOM = 801;
  const hX = l => 586.3 + (l + 2) * 50.5;
  const hY = l => 795.3 - l * 39.25;
  const hP = d => 720.7 - d * 0.81;
  const minors = [2, 3, 4, 5, 6, 7, 8, 9];
  hExponents.forEach(e => seg(p, hX(e), TOP + 1, hX(e), BOTTOM, '#dcdcdc', 0.8, 'x-grid-line', '1.5 1.5'));
  hLeftExponents.forEach(e => seg(p, LEFT, hY(e), RIGHT, hY(e), '#dcdcdc', 0.8, 'y-grid-line', '1.5 1.5'));
  seg(p, LEFT, TOP, RIGHT, TOP, '#333', 1.2, 'top-frame');
  seg(p, LEFT, BOTTOM, RIGHT, BOTTOM, '#333', 1.4, 'x-axis');
  seg(p, LEFT, TOP, LEFT, BOTTOM, RED, 1.3, 'left-y-axis');
  seg(p, RIGHT, TOP, RIGHT, BOTTOM, BLUE, 1.3, 'right-y-axis');
  [hExponents[0] - 1].concat(hExponents).forEach(e => {
    minors.forEach(m => {
      const l = e + Math.log10(m);
      if (hX(l) > LEFT && hX(l) < RIGHT) seg(p, hX(l), BOTTOM, hX(l), BOTTOM + 2.3, '#333', 0.8, 'x-minor-tick');
    });
  });
  hExponents.forEach(e => {
    seg(p, hX(e), BOTTOM, hX(e), BOTTOM + 4, '#333', 1, 'x-tick');
    powLabel(p, hX(e) + 1, 825, e, 'middle', 'x-tick-label');
  });
  hLeftExponents.forEach(e => {
    seg(p, LEFT - 3.7, hY(e), LEFT, hY(e), RED, 1, 'left-y-tick');
    powLabel(p, 539, hY(e) + 5, e, 'start', 'left-y-tick-label', RED);
    minors.forEach(m => {
      const l = e + Math.log10(m);
      if (hY(l) > TOP + 1) seg(p, LEFT - 2.2, hY(l), LEFT, hY(l), RED, 0.8, 'left-y-minor-tick');
    });
  });
  hRightTicks.forEach(v => {
    seg(p, RIGHT, hP(v), RIGHT + 3.7, hP(v), BLUE, 1, 'right-y-tick');
    label(p, 1027, hP(v) + 5, String(v).replace('-', '\u2212'), 14, 'start', 'right-y-tick-label', BLUE);
  });
  hRightMinor.forEach(v => seg(p, RIGHT, hP(v), RIGHT + 2.2, hP(v), BLUE, 0.8, 'right-y-minor-tick'));
  hLogFreq.forEach((l, i) => marker(p, 'diamond', hX(l), hY(hLogZ[i]), 1.4, '#e0603f', 'point-impedance'));
  hLogFreq.forEach((l, i) => marker(p, 'circle', hX(l), hP(hPhase[i]), 1.55, '#3f4a97', 'point-phase'));
  label(p, 793, 848.3, 'Frequency (Hz)', 14.4, 'middle', 'x-axis-title');
  const title = node('text', {x: 523, y: 723, 'font-size': 14.4, 'text-anchor': 'middle', transform: 'rotate(-90 523 723)'}, p, 'left-y-axis-title');
  title.style.fill = RED;
  title.appendChild(document.createTextNode('Impedance, |'));
  const zi = document.createElementNS(NS, 'tspan');
  zi.setAttribute('font-style', 'italic');
  zi.textContent = 'Z';
  title.appendChild(zi);
  title.appendChild(document.createTextNode('| (\u03a9)'));
  vLabel(p, 1071.5, 723.5, 'Phase angle (degrees)', 14.4, 'right-y-axis-title', BLUE);
})();
</script>
</svg>
</body>
</html>
